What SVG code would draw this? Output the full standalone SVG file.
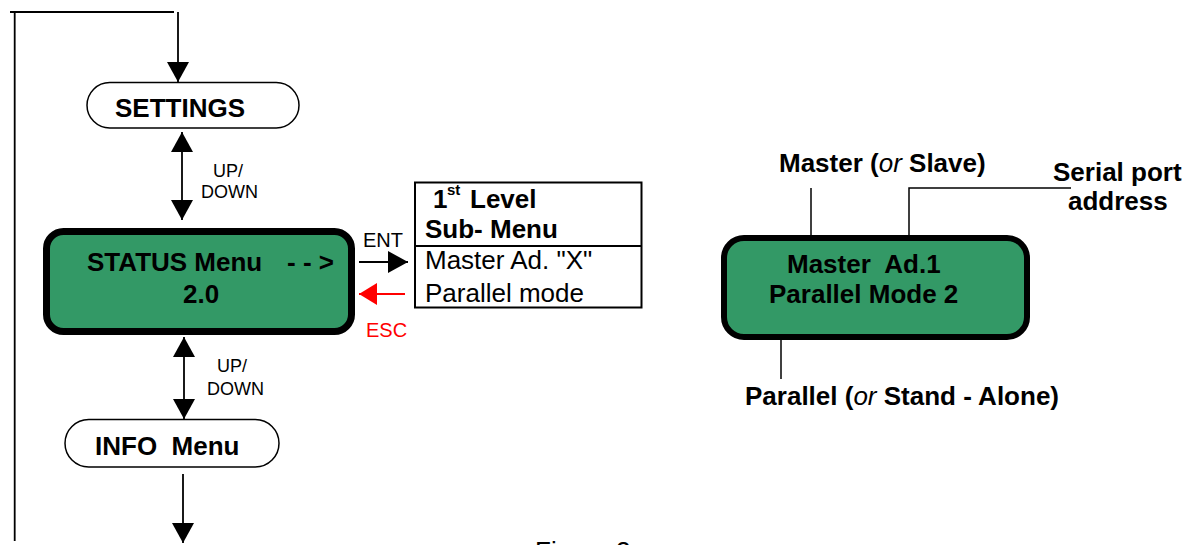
<svg xmlns="http://www.w3.org/2000/svg" width="1194" height="545" viewBox="0 0 1194 545">
<style>
text{font-family:"Liberation Sans",Arial,sans-serif;fill:#000}
.b{font-weight:bold;font-size:26px}
.r{font-size:26px}
.s{font-size:18px}
.m{font-size:20px}
.red{fill:#ff0000}
.pill{fill:#fff;stroke:#000;stroke-width:1.5}
.lcd{fill:#339966;stroke:#000}
.ln{fill:none;stroke:#000;stroke-width:1.8}
.thin{fill:none;stroke:#000;stroke-width:1.5}
</style>
<defs>
<marker id="ah" markerUnits="userSpaceOnUse" markerWidth="21" markerHeight="22" refX="20" refY="11" orient="auto-start-reverse" viewBox="0 0 21 22">
<path d="M0,0 L20,11 L0,22 z" fill="#000"/>
</marker>
<marker id="ahr" markerUnits="userSpaceOnUse" markerWidth="19" markerHeight="22" refX="18" refY="11" orient="auto" viewBox="0 0 19 22">
<path d="M0,0 L18,11 L0,22 z" fill="#ff0000"/>
</marker>
</defs>
<g id="connectors">
<line class="ln" x1="10" y1="12" x2="174" y2="12"/>
<line class="ln" x1="14.7" y1="12" x2="14.7" y2="541"/>
<line class="ln" x1="178" y1="12" x2="178" y2="82" marker-end="url(#ah)"/>
<line class="ln" x1="182" y1="132" x2="182" y2="220" marker-start="url(#ah)" marker-end="url(#ah)"/>
<line class="ln" x1="184" y1="337" x2="184" y2="419" marker-start="url(#ah)" marker-end="url(#ah)"/>
<line class="ln" x1="183" y1="474" x2="183" y2="543" marker-end="url(#ah)"/>
<line class="ln" x1="359" y1="262" x2="408" y2="262" marker-end="url(#ah)"/>
<line x1="405" y1="294" x2="359" y2="294" stroke="#ff0000" stroke-width="1.8" marker-end="url(#ahr)"/>
<line class="thin" x1="811" y1="188" x2="811" y2="245"/>
<polyline class="thin" points="909,235 909,188 1071,188"/>
<line class="thin" x1="781" y1="323" x2="781" y2="379"/>
</g>
<g id="labels">
<text class="s" x="213" y="177">UP/</text>
<text class="s" x="201" y="198">DOWN</text>
<text class="s" x="217" y="372">UP/</text>
<text class="s" x="207" y="395">DOWN</text>
<text class="m" x="363" y="247">ENT</text>
<text class="m red" x="366" y="337">ESC</text>
</g>
<g id="settings">
<rect class="pill" x="87" y="82.5" width="212" height="45.5" rx="22.75"/>
<text class="b" x="115" y="117">SETTINGS</text>
</g>
<g id="status">
<rect class="lcd" x="46.5" y="231.5" width="305" height="100" rx="17" stroke-width="7"/>
<text class="b" y="271" xml:space="preserve"><tspan x="87">STATUS Menu</tspan><tspan x="287">- - &gt;</tspan></text>
<text class="b" x="183" y="303">2.0</text>
</g>
<g id="submenu">
<rect x="415" y="182.5" width="226.5" height="125" fill="#fff" stroke="#000" stroke-width="2"/>
<line x1="415" y1="246" x2="641.5" y2="246" stroke="#000" stroke-width="2"/>
<text class="b" y="208"><tspan x="433">1</tspan><tspan x="447" y="195" style="font-size:15px">st</tspan><tspan x="470" y="208">Level</tspan></text>
<text class="b" x="425" y="238">Sub- Menu</text>
<text class="r" x="425" y="269">Master Ad. "X"</text>
<text class="r" x="425" y="302">Parallel mode</text>
</g>
<g id="info">
<rect class="pill" x="65" y="419.5" width="214" height="47.5" rx="23.75"/>
<text class="b" x="95" y="455" xml:space="preserve">INFO  Menu</text>
</g>
<g id="display">
<rect class="lcd" x="724" y="238" width="303" height="99" rx="20" stroke-width="6"/>
<text class="b" x="787" y="273" xml:space="preserve">Master  Ad.1</text>
<text class="b" x="769" y="303">Parallel Mode 2</text>
</g>
<g id="annotations">
<text class="b" x="779" y="172">Master (<tspan style="font-style:italic;font-weight:normal">or</tspan> Slave)</text>
<text class="b" x="1053" y="181">Serial port</text>
<text class="b" x="1068" y="210">address</text>
<text class="b" x="745" y="405">Parallel (<tspan style="font-style:italic;font-weight:normal">or</tspan> Stand - Alone)</text>
</g>
<text class="r" x="535" y="560">Figure 2</text>
</svg>
